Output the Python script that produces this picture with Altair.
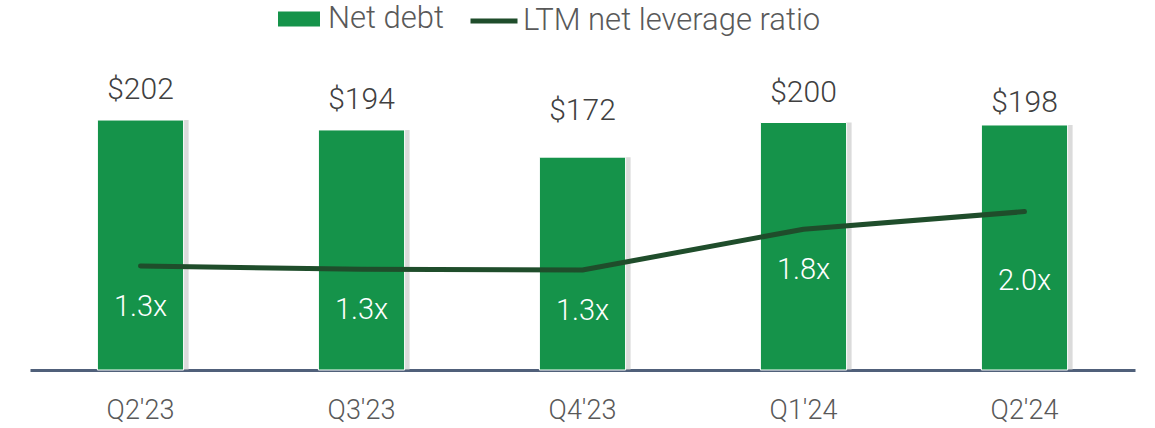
import altair as alt
import pandas as pd

quarters = ["Q2'23", "Q3'23", "Q4'23", "Q1'24", "Q2'24"]
net_debt = [202, 194, 172, 200, 198]
leverage = [1.30, 1.26, 1.25, 1.76, 1.98]
leverage_labels = ["1.3x", "1.3x", "1.3x", "1.8x", "2.0x"]

df = pd.DataFrame({
    "quarter": quarters,
    "debt": net_debt,
    "lev": leverage,
    "lev_label": leverage_labels,
})
df["debt_label"] = ["$" + str(v) for v in net_debt]
df["s1"] = "Net debt"
df["s2"] = "LTM net leverage ratio"

BAR = "#15934a"
LINE = "#1f4d2b"
TXT = "#404040"
NUMFONT = "Roboto"
AXFONT = "Roboto"

x = alt.X("quarter:N", sort=quarters,
          scale=alt.Scale(paddingInner=0.61, paddingOuter=0.305),
          axis=alt.Axis(title=None, labelAngle=0, ticks=False, domainColor="#50607a",
                        domainWidth=3, labelFont=AXFONT, labelFontSize=27,
                        labelFontWeight=300,
                        labelColor="#595959", labelPadding=27))
ybar = alt.Y("debt:Q", scale=alt.Scale(domain=[0, 258.6], nice=False), axis=None)
yline = alt.Y("lev:Q", scale=alt.Scale(domain=[0, 4], nice=False), axis=None)

base = alt.Chart(df)

shadow = base.mark_bar(color="#bdbdbd", opacity=0.55).encode(
    x=x, y=ybar, xOffset=alt.value(5))

bars = base.mark_bar(stroke="white", strokeWidth=1).encode(
    x=x, y=ybar,
    fill=alt.Fill("s1:N", scale=alt.Scale(domain=["Net debt"], range=[BAR]),
                  legend=alt.Legend(title=None, orient="none", legendX=248, legendY=-52,
                                    symbolType="M-1,-0.357H1V0.357H-1Z", symbolSize=1764,
                                    symbolStrokeWidth=0, symbolOpacity=1,
                                    labelFont=NUMFONT, labelFontSize=31, labelFontWeight=300,
                                    labelColor="#595959", labelLimit=600,
                                    labelOffset=8, padding=0)))

line = base.mark_line(strokeWidth=5, strokeCap="round", strokeJoin="round").encode(
    x=x, y=yline,
    stroke=alt.Stroke("s2:N", scale=alt.Scale(domain=["LTM net leverage ratio"], range=[LINE]),
                      legend=alt.Legend(title=None, orient="none", legendX=438, legendY=-55,
                                        symbolType="stroke", symbolSize=2209,
                                        symbolStrokeWidth=5, labelFont=NUMFONT,
                                        labelFontSize=31, labelFontWeight=300,
                                        labelColor="#595959", labelLimit=600,
                                        labelOffset=3, padding=0)))

layers = [shadow, bars, line]

debt_offsets = [(-30, ["Q2'23", "Q3'23", "Q1'24"]), (-46, ["Q4'23"]), (-22, ["Q2'24"])]
for dy, qs in debt_offsets:
    layers.append(base.mark_text(font=NUMFONT, fontSize=30, fontWeight=300, color=TXT, dy=dy,
                                 baseline="middle").encode(
        x=x, y=ybar, text="debt_label:N").transform_filter(
        alt.FieldOneOfPredicate(field="quarter", oneOf=qs)))

lev_offsets = [(41, ["Q2'23", "Q3'23", "Q4'23", "Q1'24"]), (69, ["Q2'24"])]
for dy, qs in lev_offsets:
    layers.append(base.mark_text(font=NUMFONT, fontSize=29, fontWeight=300, color="white", dy=dy,
                                 baseline="middle").encode(
        x=x, y=yline, text="lev_label:N").transform_filter(
        alt.FieldOneOfPredicate(field="quarter", oneOf=qs)))

chart = alt.layer(*layers).resolve_scale(y="independent").properties(
    width=1105, height=320,
    autosize=alt.AutoSizeParams(type="none"),
    padding={"left": 30, "top": 50, "right": 20, "bottom": 58},
).configure_view(stroke=None)

chart.save("out.html", embed_options={"renderer": "svg", "actions": False})
